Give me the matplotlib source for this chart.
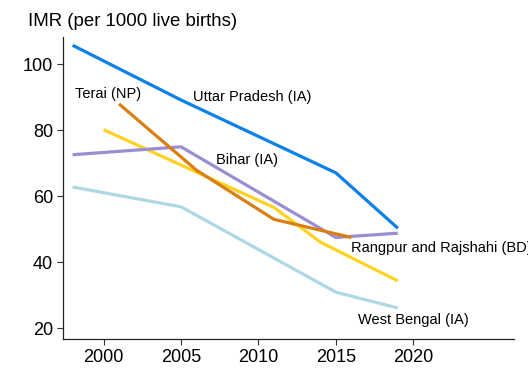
import matplotlib
matplotlib.use("Agg")
import matplotlib.pyplot as plt

plt.rcParams['font.family'] = ['Liberation Sans', 'DejaVu Sans']

up_years = [1998, 2005, 2015, 2019]
up_vals = [105.8, 89.2, 67.1, 50.3]

bihar_years = [1998, 2005, 2015, 2019]
bihar_vals = [72.6, 75.0, 47.5, 48.8]

bd_years = [2000, 2011, 2014, 2019]
bd_vals = [80.2, 56.6, 46.1, 34.3]

terai_years = [2001, 2006, 2011, 2016]
terai_vals = [88.0, 67.9, 53.0, 47.5]

wb_years = [1998, 2005, 2015, 2019]
wb_vals = [62.8, 56.8, 30.9, 26.1]

x_ticks = [2000, 2005, 2010, 2015, 2020]
y_ticks = [20, 40, 60, 80, 100]

fig = plt.figure(figsize=(5.28, 3.84), dpi=100)
ax = fig.add_axes([63.3/528, 1-339/384, (514-63.3)/528, (339-36.7)/384])

lw = 2.3
ax.plot(wb_years, wb_vals, color='#ADD8E6', lw=lw, solid_capstyle='butt')
ax.plot(bd_years, bd_vals, color='#FFD21F', lw=lw, solid_capstyle='butt')
ax.plot(bihar_years, bihar_vals, color='#9B8DD2', lw=lw, solid_capstyle='butt')
ax.plot(terai_years, terai_vals, color='#D97F10', lw=lw, solid_capstyle='butt')
ax.plot(up_years, up_vals, color='#0A80EA', lw=lw, solid_capstyle='butt')

fs = 10.5
ax.text(1998.17, 91.1, 'Terai (NP)', fontsize=fs, va='center', ha='left')
ax.text(2005.78, 90.1, 'Uttar Pradesh (IA)', fontsize=fs, va='center', ha='left')
ax.text(2007.26, 71.1, 'Bihar (IA)', fontsize=fs, va='center', ha='left')
ax.text(2015.98, 44.2, 'Rangpur and Rajshahi (BD)', fontsize=fs, va='center', ha='left', clip_on=False)
ax.text(2016.4, 22.4, 'West Bengal (IA)', fontsize=fs, va='center', ha='left')

ax.set_xlim(1997.4, 2026.5)
ax.set_ylim(16.7, 108.4)
ax.set_xticks(x_ticks)
ax.set_yticks(y_ticks)
ax.tick_params(labelsize=13, length=4, width=0.8, color='#333333')
for s in ['top', 'right']:
    ax.spines[s].set_visible(False)
for s in ['left', 'bottom']:
    ax.spines[s].set_linewidth(0.9)
    ax.spines[s].set_color('#222222')

fig.text(28/528, 1-25.5/384, 'IMR (per 1000 live births)', fontsize=13.4, ha='left', va='baseline')

fig.savefig('out.png', dpi=100)
